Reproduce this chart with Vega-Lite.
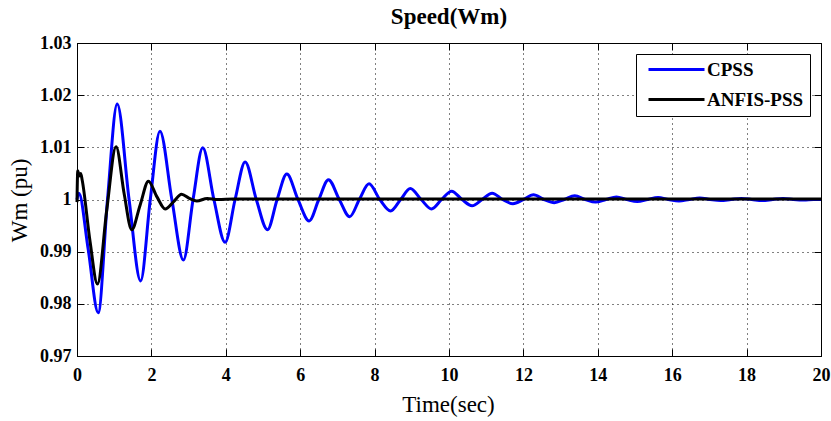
{
  "$schema": "https://vega.github.io/schema/vega-lite/v6.json",
  "width": 744,
  "height": 313,
  "autosize": {"type": "none"},
  "padding": {"left": 77, "top": 43, "right": 10, "bottom": 65},
  "background": "white",
  "title": {"text": "Speed(Wm)", "font": "Liberation Serif", "fontSize": 23, "fontWeight": "bold", "color": "#000", "anchor": "middle", "baseline": "alphabetic", "offset": -13},
  "data": {"values": [
    {"s":"CPSS","t":0,"w":1.0},{"s":"CPSS","t":0.05,"w":1.0012},{"s":"CPSS","t":0.3,"w":0.9905},{"s":"CPSS","t":0.57,"w":0.9783},
    {"s":"CPSS","t":0.82,"w":1.0},{"s":"CPSS","t":1.08,"w":1.0183},{"s":"CPSS","t":1.4,"w":1.0},{"s":"CPSS","t":1.71,"w":0.9844},
    {"s":"CPSS","t":1.97,"w":1.0},{"s":"CPSS","t":2.23,"w":1.0131},{"s":"CPSS","t":2.55,"w":1.0},{"s":"CPSS","t":2.86,"w":0.9884},
    {"s":"CPSS","t":3.12,"w":1.0},{"s":"CPSS","t":3.38,"w":1.0099},{"s":"CPSS","t":3.68,"w":1.0},{"s":"CPSS","t":3.98,"w":0.9918},
    {"s":"CPSS","t":4.25,"w":1.0},{"s":"CPSS","t":4.52,"w":1.0072},{"s":"CPSS","t":4.82,"w":1.0},{"s":"CPSS","t":5.12,"w":0.9942},
    {"s":"CPSS","t":5.38,"w":1.0},{"s":"CPSS","t":5.64,"w":1.0049},{"s":"CPSS","t":5.94,"w":1.0},{"s":"CPSS","t":6.24,"w":0.9959},
    {"s":"CPSS","t":6.5,"w":1.0},{"s":"CPSS","t":6.76,"w":1.0038},{"s":"CPSS","t":7.05,"w":1.0},{"s":"CPSS","t":7.33,"w":0.9967},
    {"s":"CPSS","t":7.59,"w":1.0},{"s":"CPSS","t":7.85,"w":1.003},{"s":"CPSS","t":8.14,"w":1.0},{"s":"CPSS","t":8.43,"w":0.9978},
    {"s":"CPSS","t":8.7,"w":1.0},{"s":"CPSS","t":8.96,"w":1.0021},{"s":"CPSS","t":9.25,"w":1.0},{"s":"CPSS","t":9.53,"w":0.9982},
    {"s":"CPSS","t":9.8,"w":1.0},{"s":"CPSS","t":10.07,"w":1.0016},{"s":"CPSS","t":10.35,"w":1.0},{"s":"CPSS","t":10.62,"w":0.9988},
    {"s":"CPSS","t":10.89,"w":1.0},{"s":"CPSS","t":11.16,"w":1.0012},{"s":"CPSS","t":11.44,"w":1.0},{"s":"CPSS","t":11.72,"w":0.9992},
    {"s":"CPSS","t":12.0,"w":1.0},{"s":"CPSS","t":12.27,"w":1.0009},{"s":"CPSS","t":12.55,"w":1.0},{"s":"CPSS","t":12.83,"w":0.9994},
    {"s":"CPSS","t":13.1,"w":1.0},{"s":"CPSS","t":13.38,"w":1.0007},{"s":"CPSS","t":13.66,"w":1.0},{"s":"CPSS","t":13.94,"w":0.9995},
    {"s":"CPSS","t":14.22,"w":1.0},{"s":"CPSS","t":14.5,"w":1.0005},{"s":"CPSS","t":14.78,"w":1.0},{"s":"CPSS","t":15.06,"w":0.9996},
    {"s":"CPSS","t":15.34,"w":1.0},{"s":"CPSS","t":15.62,"w":1.0004},{"s":"CPSS","t":15.9,"w":1.0},{"s":"CPSS","t":16.18,"w":0.9997},
    {"s":"CPSS","t":16.46,"w":1.0},{"s":"CPSS","t":16.74,"w":1.0003},{"s":"CPSS","t":17.02,"w":1.0},{"s":"CPSS","t":17.3,"w":0.9998},
    {"s":"CPSS","t":17.58,"w":1.0},{"s":"CPSS","t":17.86,"w":1.0002},{"s":"CPSS","t":18.14,"w":1.0},{"s":"CPSS","t":18.42,"w":0.9998},
    {"s":"CPSS","t":18.7,"w":1.0},{"s":"CPSS","t":18.98,"w":1.0002},{"s":"CPSS","t":19.26,"w":1.0},{"s":"CPSS","t":19.54,"w":0.9999},
    {"s":"CPSS","t":19.8,"w":1.0},{"s":"CPSS","t":20,"w":1.0},
    {"s":"ANFIS-PSS","t":0,"w":0.9995},{"s":"ANFIS-PSS","t":0.02,"w":1.0055},{"s":"ANFIS-PSS","t":0.06,"w":1.0045},{"s":"ANFIS-PSS","t":0.1,"w":1.005},
    {"s":"ANFIS-PSS","t":0.14,"w":1.0037},{"s":"ANFIS-PSS","t":0.35,"w":0.992},{"s":"ANFIS-PSS","t":0.55,"w":0.9838},{"s":"ANFIS-PSS","t":0.8,"w":0.998},
    {"s":"ANFIS-PSS","t":1.05,"w":1.0101},{"s":"ANFIS-PSS","t":1.27,"w":1.001},{"s":"ANFIS-PSS","t":1.47,"w":0.9942},{"s":"ANFIS-PSS","t":1.7,"w":0.999},
    {"s":"ANFIS-PSS","t":1.92,"w":1.0035},{"s":"ANFIS-PSS","t":2.15,"w":1.0005},{"s":"ANFIS-PSS","t":2.37,"w":0.9982},{"s":"ANFIS-PSS","t":2.6,"w":0.9996},
    {"s":"ANFIS-PSS","t":2.81,"w":1.001},{"s":"ANFIS-PSS","t":3.02,"w":1.0002},{"s":"ANFIS-PSS","t":3.22,"w":0.9997},{"s":"ANFIS-PSS","t":3.5,"w":1.0002},
    {"s":"ANFIS-PSS","t":3.8,"w":1.0},{"s":"ANFIS-PSS","t":4.2,"w":1.0001},{"s":"ANFIS-PSS","t":20,"w":1.0001}
  ]},
  "layer": [
    {
      "mark": {"type": "line", "strokeWidth": 3, "interpolate": "monotone"},
      "encoding": {
        "x": {"field": "t", "type": "quantitative", "scale": {"domain": [0, 20], "nice": false},
          "axis": {"orient": "bottom", "title": "Time(sec)", "values": [0,2,4,6,8,10,12,14,16,18,20], "format": "~g", "labelFlush": false,
            "tickSize": -7, "labelPadding": 17, "titleX": 371, "titleY": 55, "titleBaseline": "alphabetic", "titleAlign": "center", "titleAnchor": null}},
        "y": {"field": "w", "type": "quantitative", "scale": {"domain": [0.97, 1.03], "nice": false, "zero": false},
          "axis": {"orient": "left", "title": "Wm (pu)", "values": [0.97,0.98,0.99,1,1.01,1.02,1.03], "format": "~g", "labelFlush": false,
            "tickSize": -7, "labelPadding": 13, "titleX": -51, "titleY": 157, "titleAngle": 270, "titleBaseline": "alphabetic", "titleAlign": "center", "titleAnchor": null}},
        "color": {"field": "s", "type": "nominal", "scale": {"domain": ["CPSS", "ANFIS-PSS"], "range": ["#0000ff", "#000000"]},
          "legend": {"orient": "none", "legendX": 559, "legendY": 11, "title": null, "strokeColor": "#000", "fillColor": "#fff", "padding": 6,
            "symbolType": "M-0.375,0H6.625", "symbolSize": 256, "symbolStrokeWidth": 3, "labelFont": "Liberation Serif", "labelFontSize": 19,
            "labelFontWeight": "bold", "labelColor": "#000", "rowPadding": 10, "labelOffset": 46}}
      }
    },
    {
      "mark": {"type": "point", "opacity": 0},
      "encoding": {
        "x": {"field": "t", "type": "quantitative", "axis": {"orient": "top", "title": null, "labels": false, "grid": false, "domain": false, "tickSize": -7, "values": [0,2,4,6,8,10,12,14,16,18,20]}},
        "y": {"field": "w", "type": "quantitative", "axis": {"orient": "right", "title": null, "labels": false, "grid": false, "domain": false, "tickSize": -7, "values": [0.97,0.98,0.99,1,1.01,1.02,1.03]}}
      }
    }
  ],
  "resolve": {"axis": {"x": "independent", "y": "independent"}},
  "config": {
    "view": {"stroke": "#000", "strokeWidth": 1},
    "axis": {
      "domainColor": "#000", "domainWidth": 1, "tickColor": "#000", "tickWidth": 1,
      "gridColor": "#000", "gridDash": [1, 4], "gridWidth": 1, "gridOpacity": 1,
      "labelFont": "Liberation Serif", "labelFontSize": 18, "labelFontWeight": "bold", "labelColor": "#000",
      "titleFont": "Liberation Serif", "titleFontSize": 23, "titleFontWeight": "normal", "titleColor": "#000",
      "minExtent": 0
    }
  }
}
